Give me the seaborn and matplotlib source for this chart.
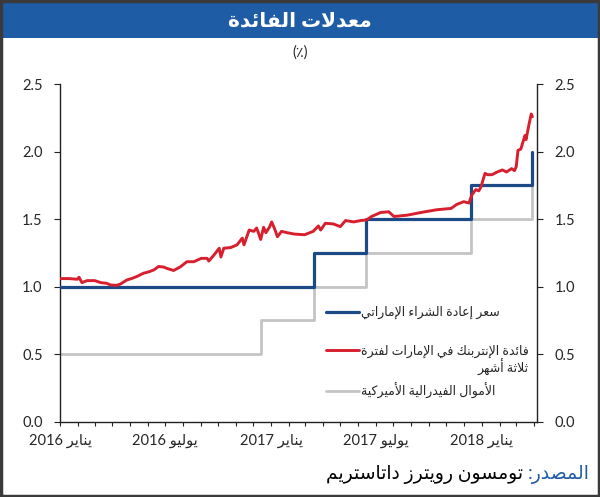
import matplotlib
matplotlib.use('Agg')
import re
import pandas as pd
import seaborn as sns
import matplotlib.pyplot as plt
import matplotlib.dates as mdates
from matplotlib.patches import Rectangle
from matplotlib.ticker import FuncFormatter

# ---- data ----
repo_dates = ["2016-01-01", "2017-03-16", "2017-06-15", "2017-12-14", "2018-03-29", "2018-03-30"]
repo_values = [1.00, 1.25, 1.50, 1.75, 2.00, 2.00]

fed_dates = ["2016-01-01", "2016-12-15", "2017-03-16", "2017-06-15", "2017-12-14", "2018-03-29", "2018-03-30"]
fed_values = [0.50, 0.75, 1.00, 1.25, 1.50, 1.75, 1.75]

eibor_dates = [
    "2016-01-01", "2016-01-17", "2016-01-31", "2016-02-03", "2016-02-08", "2016-02-17", "2016-03-01",
    "2016-03-12", "2016-03-22", "2016-03-29", "2016-04-08", "2016-04-15", "2016-04-26", "2016-05-04",
    "2016-05-13", "2016-05-25", "2016-06-03", "2016-06-12", "2016-06-20", "2016-06-29", "2016-07-04",
    "2016-07-16", "2016-07-28", "2016-08-08", "2016-08-20", "2016-09-02", "2016-09-12", "2016-09-15",
    "2016-09-24", "2016-10-03", "2016-10-06", "2016-10-11", "2016-10-23", "2016-11-03", "2016-11-12",
    "2016-11-15", "2016-11-24", "2016-12-02", "2016-12-07", "2016-12-14", "2016-12-19", "2016-12-23",
    "2016-12-29", "2017-01-02", "2017-01-07", "2017-01-12", "2017-01-19", "2017-01-29", "2017-02-10",
    "2017-02-28", "2017-03-15", "2017-03-24", "2017-03-28", "2017-04-05", "2017-04-19", "2017-05-01",
    "2017-05-10", "2017-05-24", "2017-06-05", "2017-06-16", "2017-06-24", "2017-07-10", "2017-07-24",
    "2017-08-02", "2017-08-25", "2017-09-18", "2017-10-15", "2017-11-09", "2017-11-19", "2017-12-01",
    "2017-12-10", "2017-12-15", "2017-12-22", "2017-12-27", "2017-12-31", "2018-01-04", "2018-01-07",
    "2018-01-11", "2018-01-19", "2018-01-28", "2018-02-06", "2018-02-13", "2018-02-22", "2018-02-27",
    "2018-03-02", "2018-03-05", "2018-03-10", "2018-03-17", "2018-03-19", "2018-03-24", "2018-03-28",
    "2018-03-30",
]
eibor_values = [
    1.06, 1.06, 1.055, 1.07, 1.03, 1.045, 1.045,
    1.03, 1.025, 1.012, 1.01, 1.02, 1.05, 1.06,
    1.075, 1.10, 1.11, 1.125, 1.15, 1.145, 1.136,
    1.12, 1.148, 1.185, 1.185, 1.21, 1.21, 1.19,
    1.235, 1.285, 1.22, 1.285, 1.29, 1.31, 1.36,
    1.31, 1.42, 1.41, 1.435, 1.35, 1.44, 1.40,
    1.44, 1.48, 1.43, 1.37, 1.41, 1.40, 1.39,
    1.385, 1.41, 1.45, 1.42, 1.47, 1.465, 1.445,
    1.49, 1.48, 1.49, 1.495, 1.52, 1.55, 1.555,
    1.52, 1.53, 1.55, 1.57, 1.58, 1.61, 1.63,
    1.62, 1.68, 1.72, 1.71, 1.74, 1.80, 1.84,
    1.83, 1.83, 1.85, 1.865, 1.85, 1.875, 1.86,
    1.89, 2.01, 2.02, 2.12, 2.09, 2.20, 2.28,
    2.26,
]

y_ticks = [0.0, 0.5, 1.0, 1.5, 2.0, 2.5]
month_names = {1: "يناير", 7: "يوليو"}

title = "معدلات الفائدة"
unit = "(٪)"
lbl_repo = "سعر إعادة الشراء الإماراتي"
lbl_eibor = ["فائدة الإنتربنك في الإمارات لفترة", "ثلاثة أشهر"]
lbl_fed = "الأموال الفيدرالية الأميركية"
src_head = "المصدر:"
src_body = "تومسون رويترز داتاستريم"

# ---- small Arabic shaper (matplotlib has no bidi / joining) ----
FORMS = {
    'ء': (0xFE80, 1), 'آ': (0xFE81, 2), 'أ': (0xFE83, 2), 'ؤ': (0xFE85, 2), 'إ': (0xFE87, 2),
    'ئ': (0xFE89, 4), 'ا': (0xFE8D, 2), 'ب': (0xFE8F, 4), 'ة': (0xFE93, 2), 'ت': (0xFE95, 4),
    'ث': (0xFE99, 4), 'ج': (0xFE9D, 4), 'ح': (0xFEA1, 4), 'خ': (0xFEA5, 4), 'د': (0xFEA9, 2),
    'ذ': (0xFEAB, 2), 'ر': (0xFEAD, 2), 'ز': (0xFEAF, 2), 'س': (0xFEB1, 4), 'ش': (0xFEB5, 4),
    'ص': (0xFEB9, 4), 'ض': (0xFEBD, 4), 'ط': (0xFEC1, 4), 'ظ': (0xFEC5, 4), 'ع': (0xFEC9, 4),
    'غ': (0xFECD, 4), 'ف': (0xFED1, 4), 'ق': (0xFED5, 4), 'ك': (0xFED9, 4), 'ل': (0xFEDD, 4),
    'م': (0xFEE1, 4), 'ن': (0xFEE5, 4), 'ه': (0xFEE9, 4), 'و': (0xFEED, 2), 'ى': (0xFEEF, 2),
    'ي': (0xFEF1, 4),
}
LAM_ALEF = {'آ': 0xFEF5, 'أ': 0xFEF7, 'إ': 0xFEF9, 'ا': 0xFEFB}


def shape(s):
    units = []
    i = 0
    while i < len(s):
        if s[i] == 'ل' and i + 1 < len(s) and s[i + 1] in LAM_ALEF:
            units.append(('LA', LAM_ALEF[s[i + 1]]))
            i += 2
        else:
            units.append(('C', s[i]))
            i += 1

    def joins_next(u):
        return u[0] == 'C' and u[1] in FORMS and FORMS[u[1]][1] == 4

    def takes_prev(u):
        return u[0] == 'LA' or (u[1] in FORMS and FORMS[u[1]][1] > 1)

    out = []
    for j, u in enumerate(units):
        prev = j > 0 and joins_next(units[j - 1])
        if u[0] == 'LA':
            out.append(chr(u[1] + (1 if prev else 0)))
            continue
        c = u[1]
        if c not in FORMS:
            out.append(c)
            continue
        base, n = FORMS[c]
        nxt = j + 1 < len(units) and takes_prev(units[j + 1])
        if n == 1:
            idx = 0
        elif n == 2:
            idx = 1 if prev else 0
        else:
            idx = 3 if (prev and nxt) else 1 if prev else 2 if nxt else 0
        out.append(chr(base + idx))
    return ''.join(out)


def ar(s):
    shaped = shape(s)
    runs = re.findall(r'[0-9.]+|[^0-9.]+', shaped)
    return ''.join(r if r[0].isdigit() else r[::-1] for r in reversed(runs))


# ---- frames ----
df_repo = pd.DataFrame({"date": pd.to_datetime(repo_dates), "value": repo_values})
df_fed = pd.DataFrame({"date": pd.to_datetime(fed_dates), "value": fed_values})
df_eibor = pd.DataFrame({"date": pd.to_datetime(eibor_dates), "value": eibor_values})

sns.set_style("white")
plt.rcParams['font.family'] = ['Lato', 'DejaVu Sans']

fig = plt.figure(figsize=(6, 4.97), dpi=100)
ax = fig.add_axes([0.1, 0.1517, 0.795, 0.6787])

blue = "#1b4a87"
red = "#d71f2e"
grey = "#c4c4c4"

sns.lineplot(data=df_fed, x="date", y="value", ax=ax, color=grey, lw=2.0,
             drawstyle="steps-post", label=ar(lbl_fed), zorder=2)
sns.lineplot(data=df_repo, x="date", y="value", ax=ax, color=blue, lw=2.3,
             drawstyle="steps-post", label=ar(lbl_repo), zorder=3)
sns.lineplot(data=df_eibor, x="date", y="value", ax=ax, color=red, lw=2.1,
             label=ar(lbl_eibor[0]), zorder=4)

ax.set_xlim(pd.Timestamp("2016-01-01"), pd.Timestamp("2018-04-07"))
ax.set_ylim(0, 2.5)
ax.set_yticks(y_ticks)
ax.yaxis.set_major_formatter(FuncFormatter(lambda v, p: f"{v:.1f}"))
ax.xaxis.set_major_locator(mdates.MonthLocator())


def month_fmt(v, p):
    d = mdates.num2date(v)
    if d.month in month_names:
        return ar(f"{month_names[d.month]} {d.year}")
    return ""


ax.xaxis.set_major_formatter(FuncFormatter(month_fmt))
ax.set_xlabel("")
ax.set_ylabel("")

for side in ["left", "right", "bottom"]:
    ax.spines[side].set_visible(True)
    ax.spines[side].set_color("#222222")
    ax.spines[side].set_linewidth(1.0)
ax.spines["top"].set_visible(False)

ax.tick_params(axis="y", which="both", left=True, right=True, labelleft=True, labelright=True,
               direction="out", length=4.5, width=0.8, color="#222222", labelsize=10.5, pad=8)
ax.tick_params(axis="x", bottom=True, direction="out", length=3, width=0.8, color="#222222",
               labelsize=10.5, pad=6)

# legend: order repo, eibor, fed
handles, labels = ax.get_legend_handles_labels()
order = [1, 2, 0]
leg = ax.legend([handles[i] for i in order], [labels[i] for i in order],
                loc="upper left", bbox_to_anchor=(0.557, 0.343), frameon=False,
                fontsize=9, handlelength=2.7, handletextpad=0.15, labelspacing=2.0,
                borderpad=0, borderaxespad=0)

# header, unit, source, frame
fig.patches.append(Rectangle((0, 1 - 38 / 497), 1, 38 / 497, transform=fig.transFigure,
                             facecolor="#1f5ca6", edgecolor="none", zorder=0))
fig.patches.append(Rectangle((0.002, 0.002), 0.996, 0.996, transform=fig.transFigure,
                             fill=False, edgecolor="#3a3a3a", lw=2.5, zorder=5))
fig.text(0.5, 1 - 20 / 497, ar(title), ha="center", va="center", color="white",
         fontsize=14.5, fontweight="bold")
fig.text(0.5, 1 - 53 / 497, unit, ha="center", va="center", fontsize=10.5)
src1 = fig.text(590 / 600, 1 - 474 / 497, ar(src_head), ha="right", va="center",
                color="#1f5ca6", fontsize=13.5)

# position-dependent text needs a first draw
fig.canvas.draw()
red_txt = leg.get_texts()[1]
ax.annotate(ar(lbl_eibor[1]), xy=(1, 0), xycoords=red_txt, xytext=(0, -1),
            textcoords="offset points", ha="right", va="top", fontsize=9,
            annotation_clip=False)
ax.annotate(ar(src_body) + " ", xy=(0, 0.5), xycoords=src1, ha="right", va="center",
            fontsize=13.5, color="black", annotation_clip=False)

fig.savefig("out.png", dpi=100)
